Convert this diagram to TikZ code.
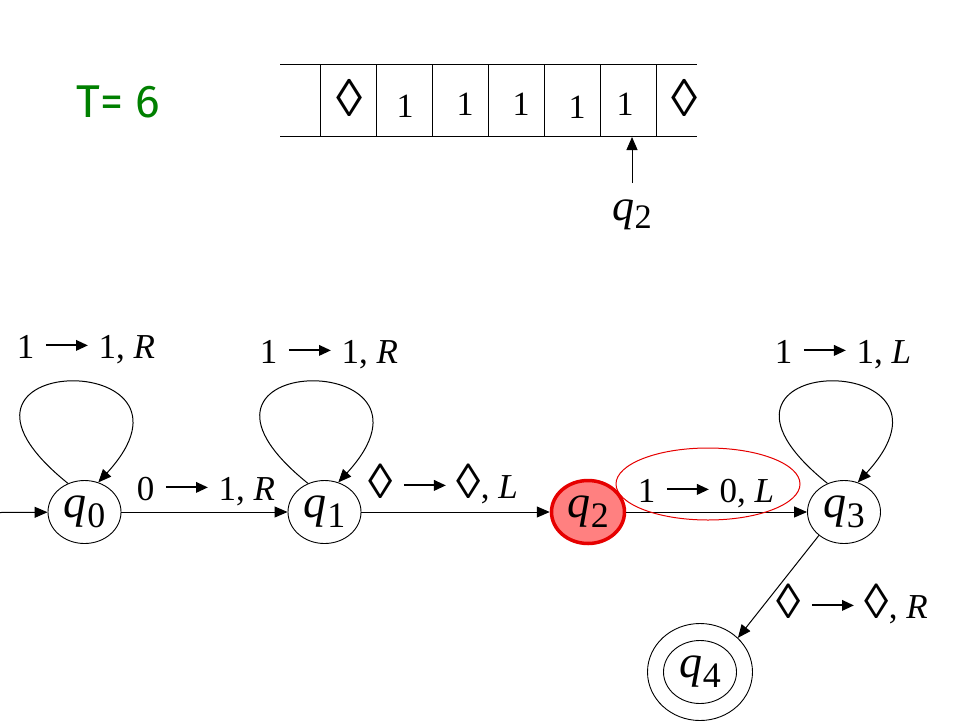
\documentclass[tikz,border=0pt]{standalone}
\usepackage{fontspec}
\usepackage{graphicx}
\setmainfont{Liberation Serif}
\newfontfamily\tfont{Fira Sans}
\usetikzlibrary{arrows.meta,shapes.geometric}
\definecolor{tgreen}{RGB}{0,128,0}
\definecolor{qred}{RGB}{230,0,0}
\definecolor{qfill}{RGB}{255,128,128}
\newcommand\qq[1]{\textit{q}\kern0.01em\raisebox{-0.2em}{\scalebox{0.78}{#1}}}
\newcommand\arr{\tikz[baseline=0pt]{\draw[line width=0.055em, -{Triangle[length=0.34em,width=0.3em]}] (0,0.36em) -- (1.2em,0.36em);}}
\newcommand\dmd{\scalebox{1.4}{◊}}
\newcommand\lab[3]{#1\hspace{0.3em}\arr\hspace{0.28em}#2,\hspace{0.25em}\textit{#3}}
\begin{document}
\begin{tikzpicture}[x=1pt,y=-1pt,
  edge/.style={draw=black, line width=1pt, -{Triangle[length=13pt,width=11pt]}},
  state/.style={ellipse, draw, line width=0.9pt, minimum width=73pt, minimum height=63pt, inner sep=0pt, font=\fontsize{46}{46}\selectfont},
  lbl/.style={font=\fontsize{35}{35}\selectfont, inner sep=0pt, anchor=base},
  tsym/.style={font=\fontsize{34}{34}\selectfont, inner sep=0pt, anchor=base}]
\fill[white] (0,0) rectangle (960,720);
\useasboundingbox (0,0) rectangle (960,720);
% T label
\node[font=\tfont\fontsize{46}{46}\selectfont, text=tgreen, anchor=base, inner sep=0pt] (T) at (118,117) {T= 6};
% tape
\draw[line width=1pt] (280,64.5) -- (697,64.5) (280,136) -- (697,136);
\foreach \x in {320,376,432,488,544,600,656} \draw[line width=1pt] (\x,64.5) -- (\x,136);
\node[tsym] (c1) at (350,116) {\scalebox{1.55}{◊}};
\node[tsym] (c2) at (405,117) {1};
\node[tsym] (c3) at (465,115) {1};
\node[tsym] (c4) at (521,115) {1};
\node[tsym] (c5) at (577,118) {1};
\node[tsym] (c6) at (625,115) {1};
\node[tsym] (c7) at (685,116) {\scalebox{1.55}{◊}};
\node[font=\fontsize{44}{44}\selectfont, inner sep=0pt, anchor=base] (tq2) at (632,220) {\qq{2}};
\coordinate (headtail) at (632,183);
\coordinate (headtip) at (632,137);
\draw[edge] (headtail) -- (headtip);
% states
\node[state] (q0) at (84.5,512) {\qq{0}};
\node[state] (q1) at (324.5,512) {\qq{1}};
\node[state, fill=qfill, draw=qred, line width=3.5pt] (q2) at (588,512) {\qq{2}};
\node[state] (q3) at (844,512) {\qq{3}};
\node[state, minimum width=105pt, minimum height=97pt] (q4) at (700,672) {};
\node[state] (q4i) at (700,672) {\qq{4}};
% edges
\coordinate (start) at (0,512.5);
\draw[edge] (start) -- (q0);
\draw[edge] (q0) -- (q1);
\draw[edge] (q1) -- (q2);
\draw[edge] (q2) -- (q3);
\draw[edge] (q3.223) -- (q4.42);
% loops
\draw[edge] (q0.120) .. controls +(-165,-133) and +(125,-136) .. (q0.65);
\draw[edge] (q1.120) .. controls +(-165,-133) and +(125,-136) .. (q1.65);
\draw[edge] (q3.120) .. controls +(-165,-133) and +(125,-136) .. (q3.65);
% labels
\node[lbl] (l00) at (86,358) {\lab{1}{1}{R}};
\node[lbl] (l11) at (329,363) {\lab{1}{1}{R}};
\node[lbl] (l01) at (206,500) {\lab{0}{1}{R}};
\node[lbl] (l12) at (443,498) {\lab{\dmd}{\dmd}{L}};
\node[lbl] (l23) at (706,502) {\lab{1}{0}{L}};
\node[lbl] (l33) at (843,363) {\lab{1}{1}{L}};
\node[lbl] (l34) at (852,618) {\lab{\dmd}{\dmd}{R}};
% highlight
\node[ellipse, draw=qred, line width=1pt, minimum width=184pt, minimum height=72pt, inner sep=0pt] (hl) at (708,484) {};
\end{tikzpicture}
\end{document}
